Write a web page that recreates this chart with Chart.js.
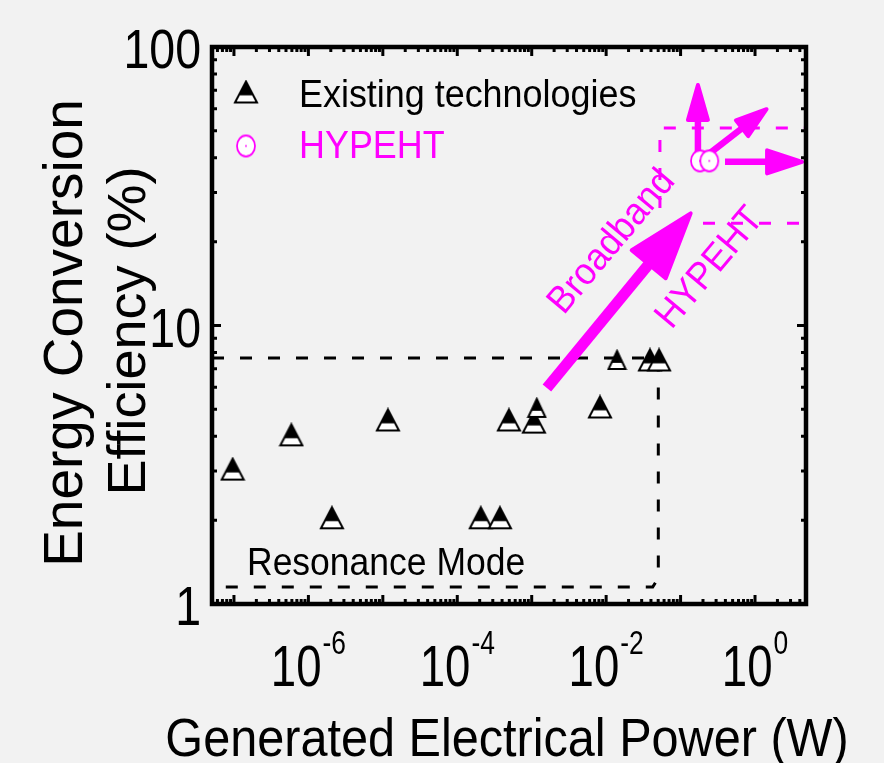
<!DOCTYPE html>
<html>
<head>
<meta charset="utf-8">
<script src="https://cdn.jsdelivr.net/npm/chart.js@4/dist/chart.umd.min.js"></script>
<style>
    html, body { margin: 0; padding: 0; background: #f2f2f2; }
    #wrap { width: 884px; height: 763px; position: relative; }
</style>
</head>
<body>
<div id="wrap"><canvas id="chart"></canvas></div>
<script>
// Energy conversion efficiency vs generated power (log-log)

// axis limits
const xMin = 5.07e-8, xMax = 4.84;
const yMin = 1, yMax = 100;

// tick labels
const xTickExps = [-6, -4, -2, 0];
const yTickValues = [1, 10, 100];
const yTickLabels = ['1', '10', '100'];

// existing technologies
const existX = [9.6e-8, 5.9e-7, 2.07e-6, 1.17e-5, 2.07e-4, 3.74e-4, 4.94e-4, 1.07e-3, 1.17e-3, 8.26e-3, 1.40e-2, 3.88e-2, 5.13e-2];
const existY = [3.05, 4.05, 2.04, 4.58, 2.04, 2.04, 4.58, 4.50, 5.06, 5.10, 7.52, 7.52, 7.52];
const smallMarkers = [8, 10];

// HYPEHT
const hypX = [0.182, 0.243];
const hypY = [39.0, 39.0];

// resonance mode dashed region
const resX = [xMin, 0.0502, 0.0502, 0.0422, xMin];
const resY = [7.65, 7.65, 1.24, 1.15, 1.15];

// HYPEHT dashed region
const boxTopX = [0.0528, 0.0528, xMax];
const boxTopY = [26.4, 51.2, 51.2];
const boxBotX = [0.2, xMax];
const boxBotY = [23.3, 23.3];

// arrows: [x0, y0, x1, y1]
const bigArrow = [1.6e-3, 5.97, 0.142, 25.6];
const smallArrows = [
    [0.171, 39.3, 0.171, 74.3],
    [0.248, 41.6, 1.50, 60.4],
    [0.395, 38.7, 4.56, 38.7]
];

const MAGENTA = '#ff00ff';
const FONT = '"Liberation Sans", Arial, sans-serif';

const pts = (xs, ys) => xs.map((x, i) => ({ x: x, y: ys[i] }));

function makeTriangle(w, h) {
    const c = document.createElement('canvas');
    c.width = w + 4; c.height = h + 4;
    const g = c.getContext('2d');
    g.translate(2, 2);
    g.beginPath();
    g.moveTo(w / 2, 0); g.lineTo(w, h); g.lineTo(0, h); g.closePath();
    g.fillStyle = '#fff'; g.fill();
    g.save(); g.clip();
    g.fillStyle = '#000'; g.fillRect(0, 0, w, h * 0.66);
    g.restore();
    g.lineWidth = 2; g.strokeStyle = '#000'; g.lineJoin = 'miter';
    g.stroke();
    return c;
}

function makeCircle(rx, ry) {
    const c = document.createElement('canvas');
    c.width = rx * 2 + 4; c.height = ry * 2 + 4;
    const g = c.getContext('2d');
    g.beginPath();
    g.ellipse(c.width / 2, c.height / 2, rx, ry, 0, 0, Math.PI * 2);
    g.fillStyle = '#fff'; g.fill();
    g.lineWidth = 1.8; g.strokeStyle = MAGENTA; g.stroke();
    g.beginPath();
    g.arc(c.width / 2, c.height / 2, 0.9, 0, Math.PI * 2);
    g.fillStyle = MAGENTA; g.fill();
    return c;
}

const triBig = makeTriangle(22, 21);
const triSmall = makeTriangle(17, 18);
const circ = makeCircle(9, 10.5);

function txt(ctx, s, x, y, o) {
    ctx.save();
    ctx.translate(x, y);
    if (o.rot) ctx.rotate(o.rot);
    ctx.scale(o.sx || 1, 1);
    ctx.font = o.size + 'px ' + FONT;
    ctx.fillStyle = o.color || '#000';
    ctx.textAlign = o.align || 'left';
    ctx.textBaseline = o.base || 'alphabetic';
    ctx.fillText(s, 0, 0);
    ctx.restore();
}

function drawArrow(ctx, xs, ys, a, shaftW, headL, headW) {
    const x0 = xs.getPixelForValue(a[0]), y0 = ys.getPixelForValue(a[1]);
    const x1 = xs.getPixelForValue(a[2]), y1 = ys.getPixelForValue(a[3]);
    const len = Math.hypot(x1 - x0, y1 - y0);
    const ux = (x1 - x0) / len, uy = (y1 - y0) / len;
    const bx = x1 - ux * headL, by = y1 - uy * headL;
    ctx.save();
    ctx.strokeStyle = MAGENTA; ctx.fillStyle = MAGENTA;
    ctx.lineWidth = shaftW; ctx.lineCap = 'butt';
    ctx.beginPath();
    ctx.moveTo(x0, y0); ctx.lineTo(bx + ux * 2, by + uy * 2);
    ctx.stroke();
    ctx.lineWidth = 4; ctx.lineJoin = 'round';
    ctx.beginPath();
    ctx.moveTo(x1 - ux * 2, y1 - uy * 2);
    ctx.lineTo(bx - uy * headW, by + ux * headW);
    ctx.lineTo(bx + uy * headW, by - ux * headW);
    ctx.closePath();
    ctx.fill(); ctx.stroke();
    ctx.restore();
}

// arrows go above the dashed lines but under the markers
const arrowPlugin = {
    id: 'arrows',
    afterDatasetDraw(chart, args) {
        if (args.meta.label !== 'resonance') return;
        const ctx = chart.ctx, xs = chart.scales.x, ys = chart.scales.y;
        drawArrow(ctx, xs, ys, bigArrow, 11, 68, 22);
        smallArrows.forEach((a, i) => {
            const hl = i === 1 ? 33 : 37;
            drawArrow(ctx, xs, ys, a, 6.5, hl, i === 2 ? 11.5 : 10);
        });
    }
};

const framePlugin = {
    id: 'frame',
    afterDraw(chart) {
        const ctx = chart.ctx, a = chart.chartArea;
        const xs = chart.scales.x, ys = chart.scales.y;
        ctx.save();
        ctx.strokeStyle = '#000';
        // inward ticks
        ctx.lineWidth = 3;
        for (let e = -8; e <= 1; e++) {
            for (let m = 1; m <= 9; m++) {
                const v = m * Math.pow(10, e);
                if (v < xMin || v > xMax) continue;
                const p = xs.getPixelForValue(v);
                const l = m === 1 ? 9 : 5;
                ctx.beginPath();
                ctx.moveTo(p, a.bottom); ctx.lineTo(p, a.bottom - l);
                ctx.moveTo(p, a.top); ctx.lineTo(p, a.top + l);
                ctx.stroke();
            }
        }
        for (let e = 0; e <= 2; e++) {
            for (let m = 1; m <= 9; m++) {
                const v = m * Math.pow(10, e);
                if (v < yMin || v > yMax) continue;
                const p = ys.getPixelForValue(v);
                const l = m === 1 ? 9 : 5;
                ctx.beginPath();
                ctx.moveTo(a.left, p); ctx.lineTo(a.left + l, p);
                ctx.moveTo(a.right, p); ctx.lineTo(a.right - l, p);
                ctx.stroke();
            }
        }
        ctx.lineWidth = 4.5;
        ctx.strokeRect(a.left, a.top, a.right - a.left, a.bottom - a.top);
        ctx.restore();

        // y tick labels
        yTickValues.forEach((v, i) => {
            txt(ctx, yTickLabels[i], a.left - 11, ys.getPixelForValue(v) + 21, { size: 56, sx: 0.83, align: 'right' });
        });
        // x tick labels, 10 with superscript exponent
        xTickExps.forEach(e => {
            const p = xs.getPixelForValue(Math.pow(10, e));
            const es = String(e);
            ctx.font = '57px ' + FONT;
            const wb = ctx.measureText('10').width * 0.8;
            ctx.font = '33px ' + FONT;
            const we = ctx.measureText(es).width * 0.8;
            const x0 = p - (wb + 1 + we) / 2;
            txt(ctx, '10', x0, 686, { size: 57, sx: 0.8 });
            txt(ctx, es, x0 + wb + 1, 654, { size: 33, sx: 0.8 });
        });

        // axis titles
        txt(ctx, 'Generated Electrical Power (W)', 507, 756, { size: 54, sx: 0.9, align: 'center' });
        txt(ctx, 'Energy Conversion', 82, 333, { size: 55, rot: -Math.PI / 2, align: 'center' });
        txt(ctx, 'Efficiency (%)', 145, 331, { size: 54, rot: -Math.PI / 2, align: 'center' });

        // legend
        ctx.drawImage(triBig, 246 - triBig.width / 2, 92 - triBig.height / 2);
        ctx.drawImage(circ, 246 - circ.width / 2, 146 - circ.height / 2);
        txt(ctx, 'Existing technologies', 299, 107, { size: 38, sx: 0.945 });
        txt(ctx, 'HYPEHT', 299, 158, { size: 38, sx: 0.945, color: MAGENTA });

        // annotations
        txt(ctx, 'Resonance Mode', 247, 575, { size: 39, sx: 0.91 });
        const rot = -50 * Math.PI / 180;
        txt(ctx, 'Broadband', 612, 242, { size: 38, sx: 0.94, rot: rot, align: 'center', base: 'middle', color: MAGENTA });
        txt(ctx, 'HYPEHT', 710, 268, { size: 38, sx: 0.94, rot: rot, align: 'center', base: 'middle', color: MAGENTA });
    }
};

const dashed = (label, xs, ys, color, order) => ({
    label: label,
    data: pts(xs, ys),
    showLine: true,
    borderColor: color,
    borderWidth: 3,
    borderDash: [12, 16],
    pointRadius: 0,
    fill: false,
    tension: 0,
    order: order
});

new Chart(document.getElementById('chart').getContext('2d'), {
    type: 'scatter',
    data: {
        datasets: [
            {
                label: 'Existing technologies',
                data: pts(existX, existY),
                pointStyle: existX.map((_, i) => smallMarkers.includes(i) ? triSmall : triBig),
                order: 0
            },
            {
                label: 'HYPEHT',
                data: pts(hypX, hypY),
                pointStyle: circ,
                order: 1
            },
            dashed('resonance', resX, resY, '#000', 3),
            dashed('boxTop', boxTopX, boxTopY, MAGENTA, 4),
            dashed('boxBottom', boxBotX, boxBotY, MAGENTA, 5)
        ]
    },
    options: {
        responsive: true,
        maintainAspectRatio: false,
        animation: false,
        layout: { padding: { left: 212, right: 78, top: 47, bottom: 159 } },
        plugins: {
            legend: { display: false },
            tooltip: { enabled: false }
        },
        scales: {
            x: { type: 'logarithmic', min: xMin, max: xMax, display: false },
            y: { type: 'logarithmic', min: yMin, max: yMax, display: false }
        }
    },
    plugins: [arrowPlugin, framePlugin]
});
</script>
</body>
</html>
